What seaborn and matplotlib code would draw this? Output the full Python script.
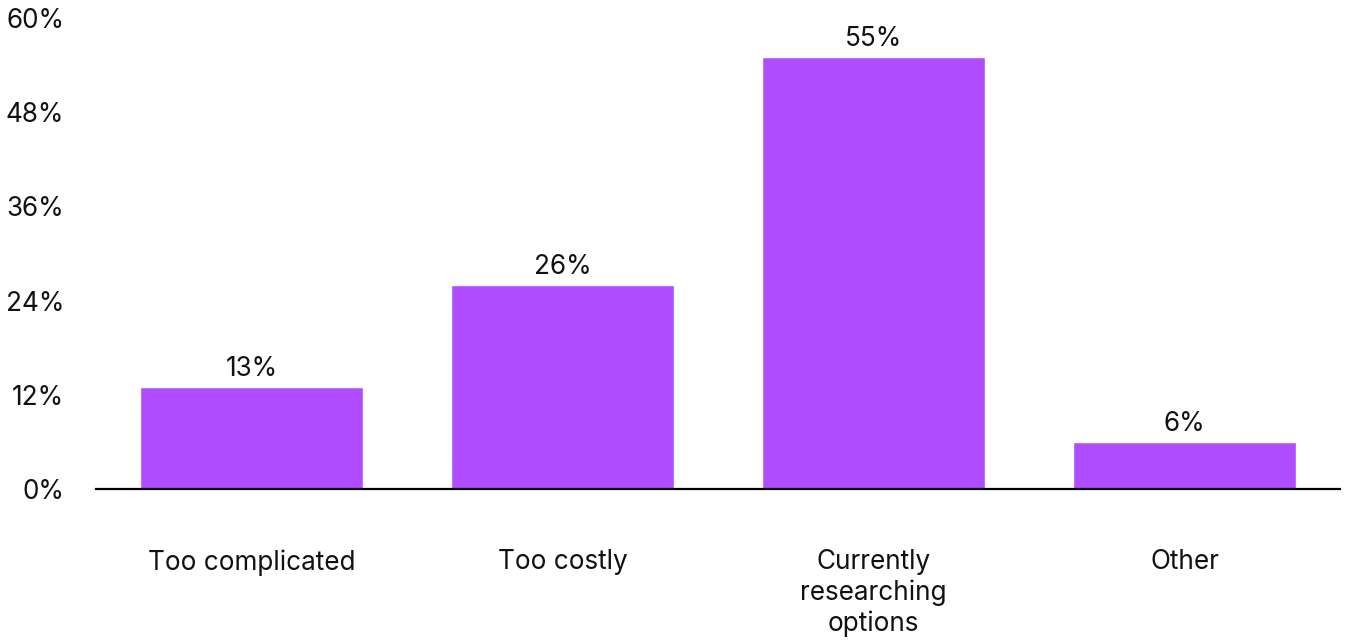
import matplotlib
matplotlib.use("Agg")
import matplotlib.pyplot as plt
import seaborn as sns
import pandas as pd

categories = ["Too complicated", "Too costly", "Currently\nresearching\noptions", "Other"]
values = [13, 26, 55, 6]
yticks = [0, 12, 24, 36, 48, 60]

bar_color = "#B04DFF"

sns.set_theme(style="white")
plt.rcParams['font.family'] = ['Inter', 'DejaVu Sans']

df = pd.DataFrame({"reason": categories, "share": values})

fig = plt.figure(figsize=(13.45, 6.43), dpi=100)
ax = fig.add_axes([96 / 1345, (643 - 489) / 643, (1340 - 96) / 1345, (489 - 18) / 643])

sns.barplot(data=df, x="reason", y="share", color=bar_color, width=0.714,
            saturation=1, ax=ax)

for i, v in enumerate(values):
    ax.annotate(f"{v}%", (i, v), xytext=(0, 3.5), textcoords="offset points",
                ha="center", va="bottom", fontsize=18.8, color="#111111")

ax.set_xlim(-0.5, 3.5)
ax.set_ylim(0, 60)
ax.set_yticks(yticks)
ax.set_yticklabels([f"{t}%" for t in yticks])
ax.set_xlabel("")
ax.set_ylabel("")

for s in ["top", "right", "left"]:
    ax.spines[s].set_visible(False)
ax.spines["bottom"].set_color("black")
ax.spines["bottom"].set_linewidth(1.6)

ax.tick_params(axis="y", length=0, pad=23, labelsize=18.8, labelcolor="#111111")
ax.tick_params(axis="x", length=0, pad=43.5, labelsize=18.8, labelcolor="#111111")
for lab in ax.get_xticklabels():
    lab.set_linespacing(1.22)
ax.grid(False)

fig.savefig("out.png", dpi=100)
